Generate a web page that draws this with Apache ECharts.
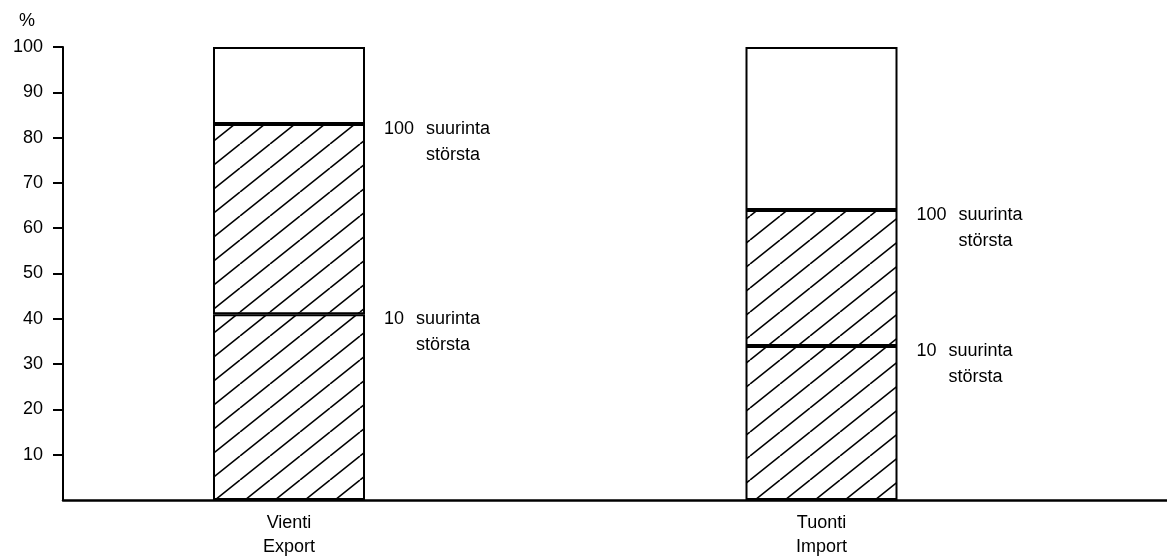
<!DOCTYPE html>
<html>
<head>
<meta charset="utf-8">
<script src="https://cdn.jsdelivr.net/npm/echarts@6/dist/echarts.min.js"></script>
<style>
html, body { margin: 0; padding: 0; background: #fff; }
#chart { width: 1167px; height: 559px; }
</style>
</head>
<body>
<div id="chart"></div>
<script>
var categories = ['Vienti\nExport', 'Tuonti\nImport'];
var top10 = [41, 34];      // 10 suurinta / största
var top100 = [83, 64];     // 100 suurinta / största
var total = [100, 100];
var yTicks = [10, 20, 30, 40, 50, 60, 70, 80, 90, 100];

var FONT = 'Liberation Sans';
var INK = '#000';

// diagonal hatch tile
function hatch() {
    var w = 30, h = 24;
    var c = document.createElement('canvas');
    c.width = w; c.height = h;
    var ctx = c.getContext('2d');
    ctx.fillStyle = '#fff';
    ctx.fillRect(0, 0, w, h);
    ctx.strokeStyle = INK;
    ctx.lineWidth = 1.6;
    for (var k = -1; k <= 1; k++) {
        ctx.beginPath();
        ctx.moveTo(k * w, h);
        ctx.lineTo(k * w + w, 0);
        ctx.stroke();
    }
    return c;
}
var hatchFill = { image: hatch(), repeat: 'repeat' };

function segLabel(num) {
    return {
        show: true,
        position: ['100%', 0],
        offset: [19, -8],
        align: 'left',
        verticalAlign: 'top',
        formatter: '{n|' + num + '}{t|suurinta}\n{h|' + num + '}{t|största}',
        rich: {
            n: { fontFamily: FONT, fontSize: 18, color: INK, lineHeight: 26, padding: [0, 12, 0, 0] },
            h: { fontFamily: FONT, fontSize: 18, color: 'rgba(0,0,0,0)', lineHeight: 26, padding: [0, 12, 0, 0] },
            t: { fontFamily: FONT, fontSize: 18, color: INK, lineHeight: 26 }
        }
    };
}

var mid = top100.map(function (v, i) { return v - top10[i]; });
var rest = total.map(function (v, i) { return v - top100[i]; });

var myChart = echarts.init(document.getElementById('chart'));

var barStyle = { borderColor: INK, borderWidth: 2 };

option = {
    animation: false,
    backgroundColor: '#fff',
    title: {
        text: '%',
        left: 19, top: 12, padding: 0,
        textStyle: { fontFamily: FONT, fontSize: 18, fontWeight: 'normal', color: INK }
    },
    grid: [
        { left: 63, right: 0, top: 47, bottom: 59 },
        { left: 22.75, width: 1065, top: 47, bottom: 59 }
    ],
    xAxis: [
        {
            type: 'value', gridIndex: 0, min: 0, max: 1,
            axisLine: { show: true, lineStyle: { color: INK, width: 2.5 } },
            axisTick: { show: false }, axisLabel: { show: false }, splitLine: { show: false }
        },
        {
            type: 'category', gridIndex: 1, data: categories,
            axisLine: { show: false }, axisTick: { show: false },
            axisLabel: { fontFamily: FONT, fontSize: 18, color: INK, lineHeight: 24, margin: 11 }
        }
    ],
    yAxis: [
        {
            type: 'value', gridIndex: 0, min: 0, max: 100, interval: 10,
            axisLine: { show: true, lineStyle: { color: INK, width: 2 } },
            axisTick: { show: true, length: 10, customValues: yTicks, lineStyle: { color: INK, width: 2 } },
            axisLabel: { customValues: yTicks, margin: 20, fontFamily: FONT, fontSize: 18, color: INK },
            splitLine: { show: false }
        },
        {
            type: 'value', gridIndex: 1, min: 0, max: 100, show: false, splitLine: { show: false }
        }
    ],
    series: [
        {
            type: 'bar', xAxisIndex: 1, yAxisIndex: 1, stack: 'a', barWidth: 152,
            data: top10,
            itemStyle: Object.assign({ color: hatchFill }, barStyle),
            label: segLabel(10)
        },
        {
            type: 'bar', xAxisIndex: 1, yAxisIndex: 1, stack: 'a', barWidth: 152,
            data: mid,
            itemStyle: Object.assign({ color: hatchFill }, barStyle),
            label: segLabel(100)
        },
        {
            type: 'bar', xAxisIndex: 1, yAxisIndex: 1, stack: 'a', barWidth: 152,
            data: rest,
            itemStyle: Object.assign({ color: '#fff' }, barStyle)
        }
    ]
};

myChart.setOption(option);
</script>
</body>
</html>
